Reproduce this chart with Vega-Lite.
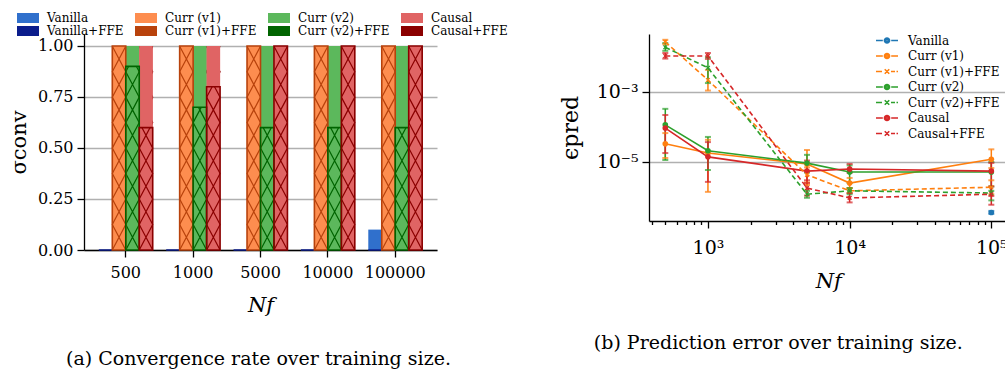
{
  "$schema": "https://vega.github.io/schema/vega-lite/v6.json",
  "background": "white",
  "padding": {"left": 8, "top": 12, "right": 0, "bottom": 0},
  "config": {
    "font": "DejaVu Serif",
    "view": {"stroke": null},
    "axis": {"domainColor": "black", "domainWidth": 1.3, "tickColor": "black", "tickWidth": 1.3, "labelColor": "black", "titleColor": "black", "labelFont": "DejaVu Serif", "titleFont": "DejaVu Serif", "labelFontSize": 16, "titleFontSize": 21, "titleFontWeight": "normal", "gridColor": "#b0b0b0", "gridWidth": 1.5, "tickSize": 7, "labelPadding": 4},
    "legend": {"labelFont": "DejaVu Serif", "labelFontSize": 12, "labelColor": "black"},
    "title": {"font": "DejaVu Serif", "fontSize": 19, "fontWeight": "normal", "color": "black"}
  },
  "bounds": "flush",
  "spacing": 212,
  "resolve": {"scale": {"color": "independent", "shape": "independent"}, "legend": {"color": "independent", "shape": "independent"}},
  "hconcat": [
    {
      "width": 353,
      "height": 216,
      "title": {"text": "(a) Convergence rate over training size.", "orient": "bottom", "frame": "group", "dx": -2, "offset": 35},
      "data": {"values": [
        {"N": "500", "method": "Vanilla", "ffeLabel": "Vanilla+FFE", "plain": 0, "ffe": 0},
        {"N": "500", "method": "Curr (v1)", "ffeLabel": "Curr (v1)+FFE", "plain": 1, "ffe": 1},
        {"N": "500", "method": "Curr (v2)", "ffeLabel": "Curr (v2)+FFE", "plain": 1, "ffe": 0.9},
        {"N": "500", "method": "Causal", "ffeLabel": "Causal+FFE", "plain": 1, "ffe": 0.6},
        {"N": "1000", "method": "Vanilla", "ffeLabel": "Vanilla+FFE", "plain": 0, "ffe": 0},
        {"N": "1000", "method": "Curr (v1)", "ffeLabel": "Curr (v1)+FFE", "plain": 1, "ffe": 1},
        {"N": "1000", "method": "Curr (v2)", "ffeLabel": "Curr (v2)+FFE", "plain": 1, "ffe": 0.7},
        {"N": "1000", "method": "Causal", "ffeLabel": "Causal+FFE", "plain": 1, "ffe": 0.8},
        {"N": "5000", "method": "Vanilla", "ffeLabel": "Vanilla+FFE", "plain": 0, "ffe": 0},
        {"N": "5000", "method": "Curr (v1)", "ffeLabel": "Curr (v1)+FFE", "plain": 1, "ffe": 1},
        {"N": "5000", "method": "Curr (v2)", "ffeLabel": "Curr (v2)+FFE", "plain": 1, "ffe": 0.6},
        {"N": "5000", "method": "Causal", "ffeLabel": "Causal+FFE", "plain": 1, "ffe": 1},
        {"N": "10000", "method": "Vanilla", "ffeLabel": "Vanilla+FFE", "plain": 0, "ffe": 0},
        {"N": "10000", "method": "Curr (v1)", "ffeLabel": "Curr (v1)+FFE", "plain": 1, "ffe": 1},
        {"N": "10000", "method": "Curr (v2)", "ffeLabel": "Curr (v2)+FFE", "plain": 1, "ffe": 0.6},
        {"N": "10000", "method": "Causal", "ffeLabel": "Causal+FFE", "plain": 1, "ffe": 1},
        {"N": "100000", "method": "Vanilla", "ffeLabel": "Vanilla+FFE", "plain": 0.1, "ffe": 0},
        {"N": "100000", "method": "Curr (v1)", "ffeLabel": "Curr (v1)+FFE", "plain": 1, "ffe": 1},
        {"N": "100000", "method": "Curr (v2)", "ffeLabel": "Curr (v2)+FFE", "plain": 1, "ffe": 0.6},
        {"N": "100000", "method": "Causal", "ffeLabel": "Causal+FFE", "plain": 1, "ffe": 1}
      ]},
      "encoding": {
        "x": {"field": "N", "type": "nominal", "sort": ["500", "1000", "5000", "10000", "100000"], "scale": {"paddingInner": 0.2, "paddingOuter": 0.22}, "axis": {"title": "Nf", "titleFontStyle": "italic", "labelAngle": 0, "labelPadding": 7, "titlePadding": 14}},
        "xOffset": {"field": "method", "type": "nominal", "sort": ["Vanilla", "Curr (v1)", "Curr (v2)", "Causal"], "scale": {"paddingInner": 0, "paddingOuter": 0}}
      },
      "layer": [
        {
          "mark": {"type": "bar"},
          "encoding": {
            "y": {"field": "plain", "type": "quantitative", "scale": {"domain": [0, 1.0588], "nice": false, "zero": true}, "axis": {"title": "σconv", "values": [0, 0.25, 0.5, 0.75, 1], "format": ".2f", "grid": true, "titlePadding": 8}},
            "color": {"field": "method", "type": "nominal",
              "scale": {"domain": ["Vanilla", "Vanilla+FFE", "Curr (v1)", "Curr (v1)+FFE", "Curr (v2)", "Curr (v2)+FFE", "Causal", "Causal+FFE"],
                        "range": ["#3070cc", "#0b1d8c", "#fd8d4f", "#b8420c", "#5cb85c", "#006400", "#e06464", "#8b0000"]},
              "legend": {"title": null, "orient": "none", "legendX": -62, "legendY": -22, "columns": 4, "symbolType": "M-3.67,-1.67H3.67V1.67H-3.67Z", "symbolSize": 36, "symbolStrokeWidth": 0, "labelOffset": 13, "rowPadding": 1, "columnPadding": 10, "padding": 0}}
          }
        },
        {
          "transform": [{"filter": "datum.ffe > 0"}],
          "mark": {"type": "point", "filled": false, "size": 4, "strokeWidth": 1.2, "opacity": 1,
            "shape": "M-6.73,0L6.73,-25.48L-6.73,-50.95L6.73,-76.43L-6.73,-101.9L6.73,-127.38L-6.73,-152.86L6.73,-178.33L-6.73,-203.81M6.73,0L-6.73,-25.48L6.73,-50.95L-6.73,-76.43L6.73,-101.9L-6.73,-127.38L6.73,-152.86L-6.73,-178.33L6.73,-203.81"},
          "encoding": {
            "y": {"datum": 0, "type": "quantitative"},
            "color": {"field": "ffeLabel", "type": "nominal", "legend": null}
          }
        },
        {
          "transform": [{"filter": "datum.ffe > 0 && datum.plain > datum.ffe"}],
          "mark": {"type": "bar"},
          "encoding": {
            "y": {"field": "ffe", "type": "quantitative"},
            "y2": {"field": "plain"},
            "color": {"field": "method", "type": "nominal", "legend": null}
          }
        },
        {
          "mark": {"type": "bar", "filled": false, "strokeWidth": 1.6},
          "encoding": {
            "y": {"field": "ffe", "type": "quantitative"},
            "color": {"field": "ffeLabel", "type": "nominal", "legend": null}
          }
        }
      ]
    },
    {
      "width": 358.6,
      "height": 187,
      "title": {"text": "(b) Prediction error over training size.", "orient": "bottom", "frame": "group", "dx": -50, "offset": 43},
      "resolve": {"legend": {"color": "independent", "shape": "independent"}},
      "data": {"values": [
        {"series": "Vanilla", "type": "plain", "N": 100000, "v": 3.6e-7, "lo": 3.3e-7, "hi": 4.0e-7},
        {"series": "Curr (v1)", "type": "plain", "N": 500, "v": 3.3e-5, "lo": 1.3e-5, "hi": 6.7e-5},
        {"series": "Curr (v1)", "type": "plain", "N": 1000, "v": 1.8e-5, "lo": 1.4e-6, "hi": 4.3e-5},
        {"series": "Curr (v1)", "type": "plain", "N": 5000, "v": 8.8e-6, "lo": 2.2e-6, "hi": 2.2e-5},
        {"series": "Curr (v1)", "type": "plain", "N": 10000, "v": 2.5e-6, "lo": 1.8e-6, "hi": 3.5e-6},
        {"series": "Curr (v1)", "type": "plain", "N": 100000, "v": 1.2e-5, "lo": 6.7e-6, "hi": 2.3e-5},
        {"series": "Curr (v1)+FFE", "type": "ffe", "N": 500, "v": 2.7e-2, "lo": 2.3e-2, "hi": 3.1e-2},
        {"series": "Curr (v1)+FFE", "type": "ffe", "N": 1000, "v": 2.2e-3, "lo": 1.1e-3, "hi": 4.3e-3},
        {"series": "Curr (v1)+FFE", "type": "ffe", "N": 5000, "v": 4.3e-6, "lo": 2.6e-6, "hi": 7e-6},
        {"series": "Curr (v1)+FFE", "type": "ffe", "N": 10000, "v": 1.5e-6, "lo": 1.3e-6, "hi": 1.8e-6},
        {"series": "Curr (v1)+FFE", "type": "ffe", "N": 100000, "v": 1.9e-6, "lo": 1.2e-6, "hi": 3e-6},
        {"series": "Curr (v2)", "type": "plain", "N": 500, "v": 1.15e-4, "lo": 1.14e-5, "hi": 3.3e-4},
        {"series": "Curr (v2)", "type": "plain", "N": 1000, "v": 2.1e-5, "lo": 5.9e-6, "hi": 5.2e-5},
        {"series": "Curr (v2)", "type": "plain", "N": 5000, "v": 9.3e-6, "lo": 5e-6, "hi": 1.6e-5},
        {"series": "Curr (v2)", "type": "plain", "N": 10000, "v": 5.2e-6, "lo": 2.5e-6, "hi": 8e-6},
        {"series": "Curr (v2)", "type": "plain", "N": 100000, "v": 5.2e-6, "lo": 1.5e-6, "hi": 1.0e-5},
        {"series": "Curr (v2)+FFE", "type": "ffe", "N": 500, "v": 1.9e-2, "lo": 1.5e-2, "hi": 2.5e-2},
        {"series": "Curr (v2)+FFE", "type": "ffe", "N": 1000, "v": 4.9e-3, "lo": 1.8e-3, "hi": 9.8e-3},
        {"series": "Curr (v2)+FFE", "type": "ffe", "N": 5000, "v": 1.2e-6, "lo": 9.5e-7, "hi": 1.5e-6},
        {"series": "Curr (v2)+FFE", "type": "ffe", "N": 10000, "v": 1.5e-6, "lo": 1.2e-6, "hi": 1.8e-6},
        {"series": "Curr (v2)+FFE", "type": "ffe", "N": 100000, "v": 1.3e-6, "lo": 8e-7, "hi": 2e-6},
        {"series": "Causal", "type": "plain", "N": 500, "v": 9.3e-5, "lo": 1.8e-5, "hi": 2.2e-4},
        {"series": "Causal", "type": "plain", "N": 1000, "v": 1.4e-5, "lo": 2.7e-6, "hi": 3.7e-5},
        {"series": "Causal", "type": "plain", "N": 5000, "v": 5.5e-6, "lo": 2.5e-6, "hi": 1.1e-5},
        {"series": "Causal", "type": "plain", "N": 10000, "v": 6.3e-6, "lo": 4.9e-6, "hi": 8.8e-6},
        {"series": "Causal", "type": "plain", "N": 100000, "v": 5.5e-6, "lo": 1.07e-6, "hi": 9.4e-6},
        {"series": "Causal+FFE", "type": "ffe", "N": 500, "v": 1.07e-2, "lo": 9e-3, "hi": 1.3e-2},
        {"series": "Causal+FFE", "type": "ffe", "N": 1000, "v": 1.07e-2, "lo": 8.8e-3, "hi": 1.3e-2},
        {"series": "Causal+FFE", "type": "ffe", "N": 5000, "v": 1.8e-6, "lo": 1.1e-6, "hi": 3e-6},
        {"series": "Causal+FFE", "type": "ffe", "N": 10000, "v": 9.4e-7, "lo": 7e-7, "hi": 1.3e-6},
        {"series": "Causal+FFE", "type": "ffe", "N": 100000, "v": 1.2e-6, "lo": 6e-7, "hi": 2e-6}
      ]},
      "encoding": {
        "x": {"field": "N", "type": "quantitative", "scale": {"type": "log", "domain": [383.7, 130300], "nice": false},
          "axis": {"title": "Nf", "titleFontStyle": "italic", "grid": false, "labelFontSize": 19, "labelPadding": 10, "titleY": 49, "titleBaseline": "top",
            "values": [400, 500, 600, 700, 800, 900, 1000, 2000, 3000, 4000, 5000, 6000, 7000, 8000, 9000, 10000, 20000, 30000, 40000, 50000, 60000, 70000, 80000, 90000, 100000],
            "labelExpr": "datum.value == 1000 ? '10³' : datum.value == 10000 ? '10⁴' : datum.value == 100000 ? '10⁵' : ''",
            "tickSize": {"condition": {"test": "datum.value == 1000 || datum.value == 10000 || datum.value == 100000", "value": 7}, "value": 3.5}}},
        "color": {"field": "series", "type": "nominal",
          "scale": {"domain": ["Vanilla", "Curr (v1)", "Curr (v1)+FFE", "Curr (v2)", "Curr (v2)+FFE", "Causal", "Causal+FFE"],
                    "range": ["#1f77b4", "#ff7f0e", "#ff7f0e", "#2ca02c", "#2ca02c", "#d62728", "#d62728"]},
          "legend": null}
      },
      "layer": [
        {
          "mark": {"type": "rule", "strokeWidth": 1.5},
          "encoding": {
            "y": {"field": "lo", "type": "quantitative", "scale": {"type": "log", "domain": [2.06e-7, 0.0454], "nice": false},
              "axis": {"title": "ϵpred", "values": [0.001, 0.00001], "labelExpr": "datum.value > 0.0001 ? '10⁻³' : '10⁻⁵'", "grid": true, "labelFontSize": 19, "titlePadding": 14, "titleFontSize": 22}},
            "y2": {"field": "hi"}
          }
        },
        {
          "mark": {"type": "tick", "orient": "horizontal", "size": 6, "thickness": 2},
          "encoding": {"y": {"field": "lo", "type": "quantitative"}}
        },
        {
          "mark": {"type": "tick", "orient": "horizontal", "size": 6, "thickness": 2},
          "encoding": {"y": {"field": "hi", "type": "quantitative"}}
        },
        {
          "transform": [{"filter": "datum.type == 'plain'"}],
          "mark": {"type": "line", "strokeWidth": 1.6},
          "encoding": {"y": {"field": "v", "type": "quantitative"}}
        },
        {
          "transform": [{"filter": "datum.type == 'ffe'"}],
          "mark": {"type": "line", "strokeWidth": 1.6, "strokeDash": [5, 3]},
          "encoding": {"y": {"field": "v", "type": "quantitative"}}
        },
        {
          "transform": [{"filter": "datum.type == 'plain'"}],
          "mark": {"type": "point", "filled": true, "shape": "circle", "size": 32, "opacity": 1},
          "encoding": {"y": {"field": "v", "type": "quantitative"}}
        },
        {
          "transform": [{"filter": "datum.type == 'ffe'"}],
          "mark": {"type": "point", "filled": false, "shape": "M-1,-1L1,1M-1,1L1,-1", "size": 14, "strokeWidth": 1.3, "opacity": 1},
          "encoding": {"y": {"field": "v", "type": "quantitative"}}
        },
        {
          "transform": [{"filter": "false"}],
          "mark": {"type": "point", "filled": false, "strokeWidth": 1.6, "opacity": 1},
          "encoding": {
            "y": {"field": "v", "type": "quantitative"},
            "color": {"field": "series", "type": "nominal",
              "legend": {"title": null, "orient": "none", "legendX": 232, "legendY": 0.5, "symbolSize": 36, "symbolStrokeWidth": 1.6, "symbolOpacity": 1, "labelOffset": 15, "rowPadding": 3.5, "padding": 0, "labelFontSize": 12}},
            "shape": {"field": "series", "type": "nominal",
              "scale": {"domain": ["Vanilla", "Curr (v1)", "Curr (v1)+FFE", "Curr (v2)", "Curr (v2)+FFE", "Causal", "Causal+FFE"],
                "range": [
                  "M-3.67,0H-1.4M1.4,0H3.67M-0.85,0A0.85,0.85 0 1,0 0.85,0A0.85,0.85 0 1,0 -0.85,0M-0.45,0A0.45,0.45 0 1,0 0.45,0A0.45,0.45 0 1,0 -0.45,0M-0.15,0A0.15,0.15 0 1,0 0.15,0A0.15,0.15 0 1,0 -0.15,0",
                  "M-3.67,0H-1.4M1.4,0H3.67M-0.85,0A0.85,0.85 0 1,0 0.85,0A0.85,0.85 0 1,0 -0.85,0M-0.45,0A0.45,0.45 0 1,0 0.45,0A0.45,0.45 0 1,0 -0.45,0M-0.15,0A0.15,0.15 0 1,0 0.15,0A0.15,0.15 0 1,0 -0.15,0",
                  "M-3.67,0H-1.67M1.33,0H2.67M3.17,0H3.67M-0.75,-0.75L0.75,0.75M-0.75,0.75L0.75,-0.75",
                  "M-3.67,0H-1.4M1.4,0H3.67M-0.85,0A0.85,0.85 0 1,0 0.85,0A0.85,0.85 0 1,0 -0.85,0M-0.45,0A0.45,0.45 0 1,0 0.45,0A0.45,0.45 0 1,0 -0.45,0M-0.15,0A0.15,0.15 0 1,0 0.15,0A0.15,0.15 0 1,0 -0.15,0",
                  "M-3.67,0H-1.67M1.33,0H2.67M3.17,0H3.67M-0.75,-0.75L0.75,0.75M-0.75,0.75L0.75,-0.75",
                  "M-3.67,0H-1.4M1.4,0H3.67M-0.85,0A0.85,0.85 0 1,0 0.85,0A0.85,0.85 0 1,0 -0.85,0M-0.45,0A0.45,0.45 0 1,0 0.45,0A0.45,0.45 0 1,0 -0.45,0M-0.15,0A0.15,0.15 0 1,0 0.15,0A0.15,0.15 0 1,0 -0.15,0",
                  "M-3.67,0H-1.67M1.33,0H2.67M3.17,0H3.67M-0.75,-0.75L0.75,0.75M-0.75,0.75L0.75,-0.75"
                ]},
              "legend": {"title": null, "orient": "none", "legendX": 232, "legendY": 0.5, "symbolSize": 36, "symbolStrokeWidth": 1.6, "symbolOpacity": 1, "labelOffset": 15, "rowPadding": 3.5, "padding": 0, "labelFontSize": 12}}
          }
        }
      ]
    }
  ]
}
